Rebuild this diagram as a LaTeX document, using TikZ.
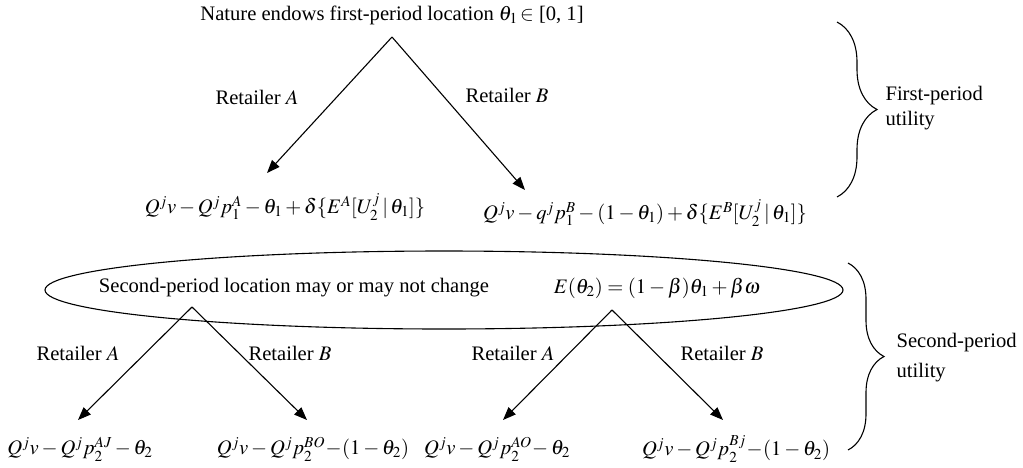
\documentclass[tikz,border=0pt]{standalone}
\usepackage{mathptmx}
\usepackage[no-math]{fontspec}
\setmainfont{Liberation Serif}
\usetikzlibrary{arrows.meta,decorations.pathreplacing}

\begin{document}
\begin{tikzpicture}[x=1pt,y=-1pt,>={Triangle[length=13pt,width=10pt]},
  font=\fontsize{20.6}{25}\selectfont,line width=1.1pt,inner sep=1pt]
\useasboundingbox (0,0) rectangle (1023,467);
% first period
\node (nature) at (392,15) {Nature endows first-period location $\theta_1\!\in$ [0, 1]};
\coordinate (top) at (392,37);
\coordinate (tipA) at (267,173);
\coordinate (tipB) at (525,190);
\draw[->] (top) -- (tipA);
\draw[->] (top) -- (tipB);
\node (retA) at (257,97) {Retailer $A$};
\node (retB) at (507,95) {Retailer $B$};
\node (uA) at (285,207) {$Q^jv - Q^jp_1^A - \theta_1 + \delta\{E^A[U_2^j\,|\,\theta_1]\}$};
\node (uB) at (645,213) {$Q^jv - q^jp_1^B - (1-\theta_1) + \delta\{E^B[U_2^j\,|\,\theta_1]\}$};
\draw[decorate,decoration={brace,amplitude=40pt}] (837,22) -- (837,197);
\node[align=left,anchor=west] (first) at (884,108) {First-period\\utility};
% second period
\draw (444,290) ellipse (399 and 39);
\node (change) at (294,288) {Second-period location may or may not change};
\node (expect) at (657,288) {$E(\theta_2) = (1-\beta)\theta_1 + \beta\omega$};
\coordinate (topL) at (192,307);
\coordinate (topR) at (612,310);
\coordinate (tipLA) at (78,420);
\coordinate (tipLB) at (307,420);
\coordinate (tipRA) at (503,420);
\coordinate (tipRB) at (723,420);
\draw[->] (topL) -- (tipLA);
\draw[->] (topL) -- (tipLB);
\draw[->] (topR) -- (tipRA);
\draw[->] (topR) -- (tipRB);
\node (retLA) at (78,353) {Retailer $A$};
\node (retLB) at (290,353) {Retailer $B$};
\node (retRA) at (513,353) {Retailer $A$};
\node (retRB) at (722,353) {Retailer $B$};
\node (uAJ) at (80,449) {$Q^jv - Q^jp_2^{AJ} - \theta_2$};
\node (uBO) at (313,449) {$Q^jv - Q^jp_2^{BO}\!-\!(1-\theta_2)$};
\node (uAO) at (497,449) {$Q^jv - Q^jp_2^{AO}\!-\theta_2$};
\node (uBj) at (736,449) {$Q^jv - Q^jp_2^{Bj}\!-\!(1-\theta_2)$};
\draw[decorate,decoration={brace,amplitude=36pt}] (848,263) -- (848,450);
\node[align=left,anchor=west,font=\fontsize{20.6}{30}\selectfont] (second) at (895,358) {Second-period\\utility};
\end{tikzpicture}
\end{document}
